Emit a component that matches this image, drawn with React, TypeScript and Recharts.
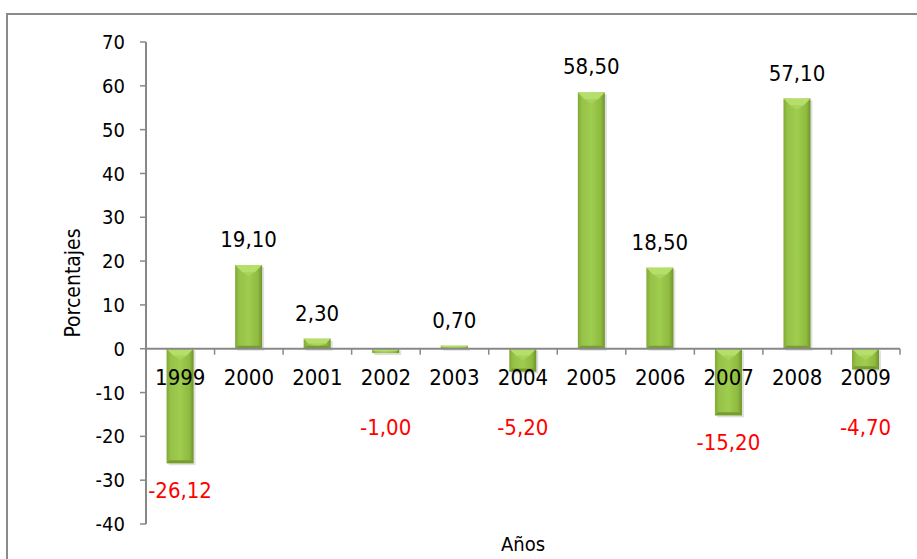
import React from "react";
import { BarChart, Bar, XAxis, YAxis, ReferenceLine, LabelList } from "recharts";

const years = ["1999", "2000", "2001", "2002", "2003", "2004", "2005", "2006", "2007", "2008", "2009"];
const values = [-26.12, 19.1, 2.3, -1.0, 0.7, -5.2, 58.5, 18.5, -15.2, 57.1, -4.7];
const yTicks = [-40, -30, -20, -10, 0, 10, 20, 30, 40, 50, 60, 70];

const data = years.map((year, i) => ({ year, value: values[i] }));

const FONT = '"Liberation Sans Narrow", "Arial Narrow", "DejaVu Sans Condensed", sans-serif';
const AXIS = "#888888";

const fmt = (v: number) => v.toFixed(2).replace(".", ",");

function BevelBar(props: any) {
  const { x, y, width, height, index } = props;
  const top = Math.min(y, y + height);
  const h = Math.abs(height);
  if (!h) return null;
  const b = Math.min(7, h / 2);
  const id = `barGrad${index}`;
  return (
    <g>
      <defs>
        <linearGradient id={id} x1="0" y1="0" x2="1" y2="0">
          <stop offset="0%" stopColor="#82a836" />
          <stop offset="15%" stopColor="#96c248" />
          <stop offset="50%" stopColor="#9fcd4e" />
          <stop offset="85%" stopColor="#8eba40" />
          <stop offset="100%" stopColor="#6f9329" />
        </linearGradient>
      </defs>
      <rect x={x + 2} y={top + 2} width={width} height={h} fill="rgba(0,0,0,0.12)" />
      <rect x={x} y={top} width={width} height={h} fill={`url(#${id})`} />
      <polygon
        points={`${x},${top} ${x + width},${top} ${x + width - b},${top + b} ${x + b},${top + b}`}
        fill="#b6de6a"
      />
      <polygon
        points={`${x + b},${top + b} ${x + width / 2},${top + b * 1.6} ${x + width - b},${top + b}`}
        fill="#a8d35c"
      />
      {h > 6 && (
        <polygon
          points={`${x},${top + h} ${x + width},${top + h} ${x + width - 3},${top + h - 3} ${x + 3},${top + h - 3}`}
          fill="#789c30"
        />
      )}
    </g>
  );
}

function ValueLabel(props: any) {
  const { x, y, width, height, value } = props;
  const v = Number(value);
  const top = Math.min(y, y + height);
  const bottom = Math.max(y, y + height);
  const cx = x + width / 2;
  if (v >= 0) {
    return (
      <text x={cx} y={top - 18} textAnchor="middle" fontFamily={FONT} fontSize={22} fill="#000">
        {fmt(v)}
      </text>
    );
  }
  const ly = Math.max(bottom + 35, top + 86);
  return (
    <text x={cx} y={ly} textAnchor="middle" fontFamily={FONT} fontSize={22} fill="#ff0000">
      {fmt(v)}
    </text>
  );
}

// zero line drawn as the category axis, with ticks between bands and year labels
function ZeroAxis(props: any) {
  const { x1, y1, x2, y2 } = props;
  const n = years.length;
  const band = (x2 - x1) / n;
  return (
    <g>
      <line x1={x1} y1={y1} x2={x2} y2={y2} stroke={AXIS} strokeWidth={2} />
      {Array.from({ length: n + 1 }, (_, i) => (
        <line
          key={`t${i}`}
          x1={x1 + i * band}
          y1={y1}
          x2={x1 + i * band}
          y2={y1 + 6}
          stroke={AXIS}
          strokeWidth={1.5}
        />
      ))}
      {years.map((yr, i) => (
        <text
          key={yr}
          x={x1 + (i + 0.5) * band}
          y={y1 + 36}
          textAnchor="middle"
          fontFamily={FONT}
          fontSize={22}
          fill="#000"
        >
          {yr}
        </text>
      ))}
    </g>
  );
}

const renderYLabel = (p: any) => {
  const vb = p.viewBox;
  const cx = vb.x - 13;
  const cy = vb.y + vb.height / 2;
  return (
    <text
      x={cx}
      y={cy}
      transform={`rotate(-90, ${cx}, ${cy})`}
      textAnchor="middle"
      dominantBaseline="central"
      fontFamily={FONT}
      fontSize={21}
      fill="#000"
    >
      Porcentajes
    </text>
  );
};

const renderXLabel = (p: any) => {
  const vb = p.viewBox;
  return (
    <text
      x={vb.x + vb.width / 2}
      y={vb.y + 27}
      textAnchor="middle"
      fontFamily={FONT}
      fontSize={20}
      fill="#000"
    >
      Años
    </text>
  );
};

export default function App() {
  return (
    <div
      style={{
        position: "fixed",
        left: 0,
        top: 0,
        width: 917,
        height: 559,
        overflow: "hidden",
        background: "#fff",
      }}
    >
      <div
        style={{
          position: "absolute",
          left: 6,
          top: 13,
          width: 940,
          height: 580,
          borderTop: "2px solid #8a8a8a",
          borderLeft: "2px solid #8a8a8a",
        }}
      />
      <div style={{ position: "absolute", left: 0, top: 0 }}>
        <BarChart
          width={917}
          height={559}
          data={data}
          margin={{ top: 42, right: 17, bottom: 0, left: 86 }}
          barCategoryGap="30%"
        >
          <XAxis
            dataKey="year"
            height={35}
            axisLine={false}
            tickLine={false}
            tick={false}
            label={renderXLabel}
          />
          <YAxis
            width={60}
            domain={[-40, 70]}
            ticks={yTicks}
            interval={0}
            axisLine={{ stroke: AXIS, strokeWidth: 2 }}
            tickLine={{ stroke: AXIS, strokeWidth: 1.5 }}
            tickSize={6}
            tickMargin={15}
            tick={{ fontFamily: FONT, fontSize: 20, fill: "#000" }}
            label={renderYLabel}
          />
          <Bar dataKey="value" shape={<BevelBar />} isAnimationActive={false}>
            <LabelList dataKey="value" content={<ValueLabel />} />
          </Bar>
          <ReferenceLine y={0} shape={<ZeroAxis />} />
        </BarChart>
      </div>
    </div>
  );
}
